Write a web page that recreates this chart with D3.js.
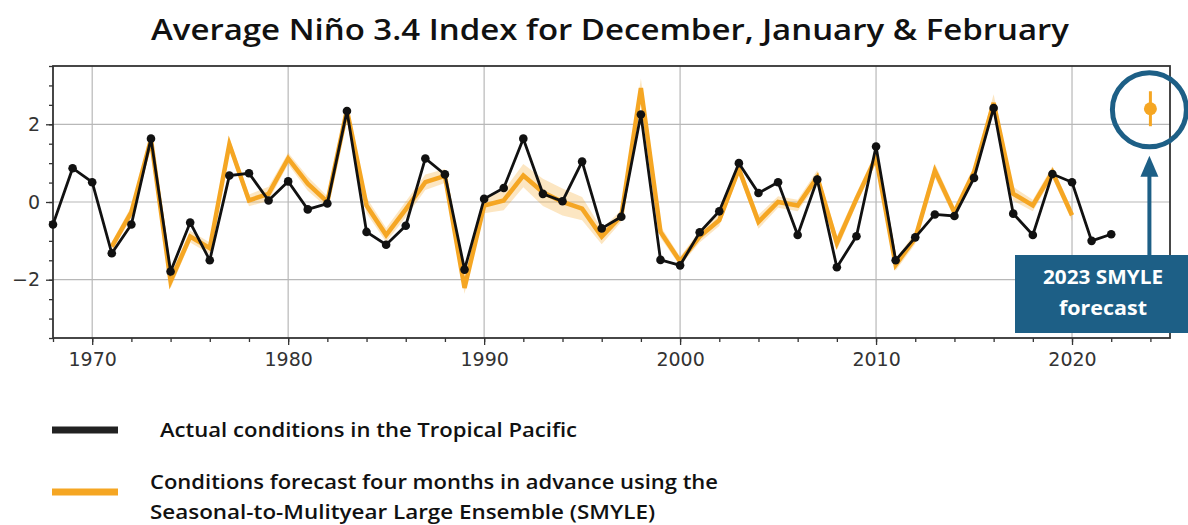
<!DOCTYPE html>
<html>
<head>
<meta charset="utf-8">
<script src="https://cdn.jsdelivr.net/npm/d3@7"></script>
<style>
  body { margin: 0; background: #fff; }
  svg { display: block; }
</style>
</head>
<body>
<div id="chart"></div>
<script>
// Observed DJF Niño 3.4 index (black line), 1968-2022
var actualYears = d3.range(1968, 2023);
var actualValues = [
  -0.58, 0.87, 0.51, -1.32, -0.58, 1.63, -1.79, -0.53, -1.5, 0.68,
  0.74, 0.04, 0.53, -0.19, -0.04, 2.34, -0.77, -1.1, -0.61, 1.12,
  0.71, -1.74, 0.08, 0.36, 1.63, 0.21, 0.02, 1.04, -0.68, -0.38,
  2.25, -1.49, -1.63, -0.78, -0.24, 1.0, 0.23, 0.51, -0.85, 0.58,
  -1.68, -0.88, 1.43, -1.5, -0.91, -0.32, -0.36, 0.62, 2.42, -0.3,
  -0.85, 0.72, 0.51, -1.0, -0.83
];

// SMYLE forecast (orange line), 1971-2020, with ensemble spread
var forecastYears = d3.range(1971, 2021);
var forecastValues = [
  -1.15, -0.26, 1.61, -2.04, -0.89, -1.19, 1.49, 0.04, 0.21, 1.12,
  0.47, 0.0, 2.36, -0.09, -0.85, -0.19, 0.51, 0.67, -2.21, -0.09,
  0.04, 0.68, 0.25, 0.0, -0.17, -0.89, -0.36, 2.93, -0.77, -1.53,
  -0.89, -0.47, 0.85, -0.51, 0.0, -0.09, 0.64, -1.06, 0.08, 1.15,
  -1.62, -0.93, 0.81, -0.27, 0.77, 2.55, 0.21, -0.09, 0.77, -0.34
];
var forecastSpread = [
  0.12, 0.15, 0.12, 0.18, 0.15, 0.15, 0.15, 0.15, 0.18, 0.15,
  0.18, 0.15, 0.12, 0.2, 0.18, 0.2, 0.2, 0.18, 0.15, 0.2,
  0.25, 0.3, 0.35, 0.35, 0.3, 0.2, 0.15, 0.25, 0.15, 0.12,
  0.15, 0.15, 0.15, 0.18, 0.15, 0.15, 0.18, 0.18, 0.15, 0.15,
  0.15, 0.15, 0.18, 0.15, 0.15, 0.22, 0.18, 0.15, 0.15, 0.15
];

// 2023 SMYLE forecast for DJF 2023/24
var nextYear = 2024;
var nextValue = 2.4;
var nextRange = [1.95, 2.85];

var xTickLabels = [1970, 1980, 1990, 2000, 2010, 2020];
var yTickLabels = [-2, 0, 2];

var titleText = "Average Niño 3.4 Index for December, January & February";
var legendItems = [
  { color: "#222", lines: ["Actual conditions in the Tropical Pacific"], widths: [417] },
  { color: "#f5a623", lines: ["Conditions forecast four months in advance using the",
                              "Seasonal-to-Mulityear Large Ensemble (SMYLE)"], widths: [568, 505] }
];

var width = 1188, height = 525;
var margin = { top: 66, right: 18, bottom: 187, left: 53 };
var w = width - margin.left - margin.right;
var h = height - margin.top - margin.bottom;

var orange = "#f5a623";
var navy = "#1d5f86";
var textFont = "'Open Sans', sans-serif";

var svg = d3.select("#chart").append("svg")
  .attr("width", width)
  .attr("height", height);

// title
svg.append("text")
  .attr("x", 610)
  .attr("y", 40)
  .attr("text-anchor", "middle")
  .attr("font-family", textFont)
  .attr("font-weight", 600)
  .attr("font-size", 28)
  .attr("textLength", 918)
  .attr("lengthAdjust", "spacingAndGlyphs")
  .attr("fill", "#111")
  .text(titleText);

var g = svg.append("g")
  .attr("transform", "translate(" + margin.left + "," + margin.top + ")");

var x = d3.scaleLinear().domain([1968, 2025]).range([0, w]);
var y = d3.scaleLinear().domain([-3.5, 3.5]).range([h, 0]);

// grid
g.append("g").selectAll("line")
  .data(xTickLabels)
  .enter().append("line")
  .attr("x1", d => x(d)).attr("x2", d => x(d))
  .attr("y1", 0).attr("y2", h)
  .attr("stroke", "#b8b8b8").attr("stroke-width", 1.2);
g.append("g").selectAll("line")
  .data(yTickLabels)
  .enter().append("line")
  .attr("x1", 0).attr("x2", w)
  .attr("y1", d => y(d)).attr("y2", d => y(d))
  .attr("stroke", "#b8b8b8").attr("stroke-width", 1.2);

// axes
var tickFont = "'DejaVu Sans', sans-serif";
var xMinor = g.append("g")
  .attr("transform", "translate(0," + h + ")")
  .call(d3.axisBottom(x).tickValues(d3.range(1968, 2026, 2)).tickSize(4).tickFormat(""));
var xAxis = g.append("g")
  .attr("transform", "translate(0," + h + ")")
  .call(d3.axisBottom(x).tickValues(xTickLabels).tickSize(7).tickPadding(6).tickFormat(d3.format("d")));
var yMinor = g.append("g")
  .call(d3.axisLeft(y).tickValues(d3.range(-3.5, 3.51, 0.5)).tickSize(4).tickFormat(""));
var yAxis = g.append("g")
  .call(d3.axisLeft(y).tickValues(yTickLabels).tickSize(7).tickPadding(6)
    .tickFormat(d => d < 0 ? "\u2212" + Math.abs(d) : d));

[xMinor, xAxis, yMinor, yAxis].forEach(function (a) {
  a.select(".domain").remove();
  a.selectAll("line").attr("stroke", "#333").attr("stroke-width", 1.3);
  a.selectAll("text")
    .attr("font-family", tickFont)
    .attr("font-size", 19)
    .attr("fill", "#333");
});
xAxis.selectAll("text").attr("dy", "0.8em");

// frame
g.append("rect")
  .attr("width", w).attr("height", h)
  .attr("fill", "none")
  .attr("stroke", "#333")
  .attr("stroke-width", 1.8);

// forecast spread band
var band = forecastYears.map((yr, i) => ({ yr: yr, lo: forecastValues[i] - forecastSpread[i], hi: forecastValues[i] + forecastSpread[i] }));
g.append("path")
  .datum(band)
  .attr("d", d3.area().x(d => x(d.yr)).y0(d => y(d.lo)).y1(d => y(d.hi)))
  .attr("fill", orange)
  .attr("opacity", 0.28);

// forecast line
g.append("path")
  .datum(forecastYears.map((yr, i) => [yr, forecastValues[i]]))
  .attr("d", d3.line().x(d => x(d[0])).y(d => y(d[1])))
  .attr("fill", "none")
  .attr("stroke", orange)
  .attr("stroke-width", 4.5);

// actual line + dots
var actual = actualYears.map((yr, i) => [yr, actualValues[i]]);
g.append("path")
  .datum(actual)
  .attr("d", d3.line().x(d => x(d[0])).y(d => y(d[1])))
  .attr("fill", "none")
  .attr("stroke", "#111")
  .attr("stroke-width", 2.8);
g.append("g").selectAll("circle")
  .data(actual)
  .enter().append("circle")
  .attr("cx", d => x(d[0]))
  .attr("cy", d => y(d[1]))
  .attr("r", 4.3)
  .attr("fill", "#111");

// 2023 forecast point with error bar
g.append("line")
  .attr("x1", x(nextYear)).attr("x2", x(nextYear))
  .attr("y1", y(nextRange[0])).attr("y2", y(nextRange[1]))
  .attr("stroke", orange).attr("stroke-width", 3);
g.append("circle")
  .attr("cx", x(nextYear)).attr("cy", y(nextValue))
  .attr("r", 6.5)
  .attr("fill", orange);

// annotation: circle, arrow, box
var cx = x(nextYear), cy = y(nextValue);
g.append("circle")
  .attr("cx", cx - 1).attr("cy", cy + 1)
  .attr("r", 37)
  .attr("fill", "none")
  .attr("stroke", navy)
  .attr("stroke-width", 5);

var boxTop = 255 - margin.top;
g.append("line")
  .attr("x1", cx - 1).attr("x2", cx - 1)
  .attr("y1", boxTop).attr("y2", cy + 60)
  .attr("stroke", navy).attr("stroke-width", 4);
g.append("path")
  .attr("d", "M" + (cx - 1) + "," + (cy + 47) + " L" + (cx - 10) + "," + (cy + 68) + " L" + (cx + 8) + "," + (cy + 68) + " Z")
  .attr("fill", navy);

svg.append("rect")
  .attr("x", 1015).attr("y", 255)
  .attr("width", 173).attr("height", 78)
  .attr("fill", navy);
svg.append("text")
  .attr("x", 1103).attr("y", 284)
  .attr("text-anchor", "middle")
  .attr("font-family", textFont)
  .attr("font-weight", 700)
  .attr("font-size", 19)
  .attr("textLength", 120)
  .attr("lengthAdjust", "spacingAndGlyphs")
  .attr("fill", "#fff")
  .text("2023 SMYLE");
svg.append("text")
  .attr("x", 1103).attr("y", 315)
  .attr("text-anchor", "middle")
  .attr("font-family", textFont)
  .attr("font-weight", 700)
  .attr("font-size", 19)
  .attr("textLength", 88)
  .attr("lengthAdjust", "spacingAndGlyphs")
  .attr("fill", "#fff")
  .text("forecast");

// legend
var legendY = [430, 492];
var legendTextX = [160, 150];
var legend = svg.append("g");
legendItems.forEach(function (item, i) {
  legend.append("line")
    .attr("x1", 52).attr("x2", 118)
    .attr("y1", legendY[i]).attr("y2", legendY[i])
    .attr("stroke", item.color)
    .attr("stroke-width", 7);
  var top = item.lines.length == 1 ? legendY[i] + 7 : legendY[i] - 3;
  item.lines.forEach(function (line, j) {
    legend.append("text")
      .attr("x", legendTextX[i])
      .attr("y", top + j * 30)
      .attr("font-family", textFont)
      .attr("font-weight", 600)
      .attr("font-size", 19)
      .attr("textLength", item.widths[j])
      .attr("lengthAdjust", "spacingAndGlyphs")
      .attr("fill", "#111")
      .text(line);
  });
});
</script>
</body>
</html>
